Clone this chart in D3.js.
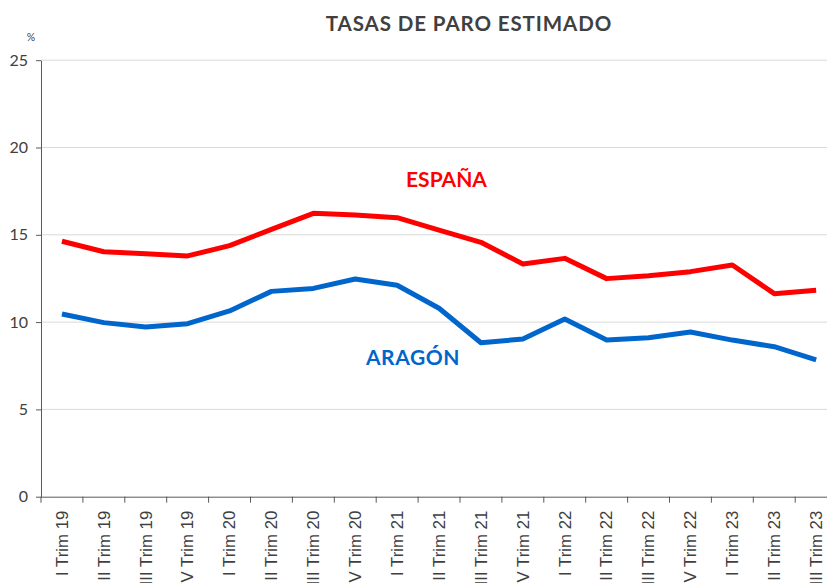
<!DOCTYPE html>
<html><head><meta charset="utf-8">
<script src="https://cdn.jsdelivr.net/npm/d3@7"></script>
<style>
html,body{margin:0;padding:0;background:#fff;overflow:hidden;}
svg{display:block;}
</style></head>
<body>
<script>
const categories = ["I Trim 19","II Trim 19","III Trim 19","IV Trim 19","I Trim 20","II Trim 20","III Trim 20","IV Trim 20","I Trim 21","II Trim 21","III Trim 21","IV Trim 21","I Trim 22","II Trim 22","III Trim 22","IV Trim 22","I Trim 23","II Trim 23","III Trim 23"];
const espana = [14.63,14.03,13.92,13.79,14.38,15.31,16.23,16.13,15.98,15.27,14.57,13.33,13.65,12.49,12.66,12.89,13.27,11.63,11.82];
const aragon = [10.46,9.97,9.72,9.91,10.64,11.76,11.93,12.47,12.11,10.79,8.82,9.03,10.18,8.97,9.1,9.43,8.97,8.59,7.83];
const yTicks = [0,5,10,15,20,25];
const title = "TASAS DE PARO ESTIMADO";

(function(){
const W = 827, H = 583;
const svg = d3.select("body").append("svg").attr("width", W).attr("height", H);
const mLeft = 41, mTop = 60.2, mBottom = 496.7;
const x = d3.scaleBand().domain(categories).range([mLeft, mLeft + 19*41.9]).paddingInner(0).paddingOuter(0);
const y = d3.scaleLinear().domain([0,25]).range([mBottom, mTop]);
const cx = d => x(d) + x.bandwidth()/2;

// gridlines
svg.append("g").selectAll("line").data(yTicks.filter(t=>t>0)).join("line")
  .attr("x1", mLeft).attr("x2", W).attr("y1", d=>y(d)).attr("y2", d=>y(d))
  .attr("stroke", "#d9d9d9").attr("stroke-width", 1);

// y axis
const yAxis = svg.append("g").attr("transform", `translate(${mLeft},0)`)
  .call(d3.axisLeft(y).tickValues(yTicks).tickSize(5).tickPadding(8).tickSizeOuter(0));
yAxis.select(".domain").attr("stroke", "#595959");
yAxis.selectAll(".tick line").attr("stroke", "#595959");
yAxis.selectAll("text").attr("font-family", "Lato, sans-serif").attr("font-size", 16).attr("fill", "#404040");

// x axis
const xAxis = svg.append("g").attr("transform", `translate(0,${mBottom})`)
  .call(d3.axisBottom(x).tickSize(0).tickSizeOuter(0).tickFormat(""));
xAxis.select(".domain").attr("stroke", "#595959").attr("d", `M${mLeft},0.5H${W}`);
xAxis.selectAll(".tick").remove();
svg.append("g").selectAll("line").data(categories).join("line")
  .attr("x1", d=>x(d)).attr("x2", d=>x(d)).attr("y1", mBottom).attr("y2", mBottom+6)
  .attr("stroke", "#595959");
svg.append("g").selectAll("text").data(categories).join("text")
  .attr("transform", d=>`translate(${cx(d)+5.8},${mBottom+14}) rotate(-90)`)
  .attr("text-anchor", "end")
  .attr("font-family", "'Liberation Sans', Arial, sans-serif").attr("font-size", 16.8).attr("fill", "#404040")
  .text(d=>d);

// lines
const line = d3.line().x((d,i)=>cx(categories[i])).y(d=>y(d));
svg.append("path").datum(espana).attr("d", line).attr("fill","none").attr("stroke","#ff0000").attr("stroke-width",5).attr("stroke-linejoin","round");
svg.append("path").datum(aragon).attr("d", line).attr("fill","none").attr("stroke","#0066cc").attr("stroke-width",5).attr("stroke-linejoin","round");

// labels
svg.append("text").attr("x", 446.5).attr("y", 186.7).attr("text-anchor","middle")
  .attr("font-family","Lato, sans-serif").attr("font-weight","bold").attr("font-size",21).attr("fill","#ff0000").text("ESPAÑA");
svg.append("text").attr("x", 413).attr("y", 365).attr("text-anchor","middle")
  .attr("font-family","Lato, sans-serif").attr("font-weight","bold").attr("font-size",21).attr("letter-spacing",0.6).attr("fill","#0066cc").text("ARAGÓN");

// title
svg.append("text").attr("x", 469).attr("y", 30.7).attr("text-anchor","middle")
  .attr("font-family","Lato, sans-serif").attr("font-weight","bold").attr("font-size",20.5).attr("letter-spacing",0.9).attr("fill","#404040").text(title);
svg.append("text").attr("x", 31).attr("y", 40.5).attr("text-anchor","middle")
  .attr("font-family","Lato, sans-serif").attr("font-size",10.5).attr("fill","#404040").text("%");
})();
</script>
</body></html>
